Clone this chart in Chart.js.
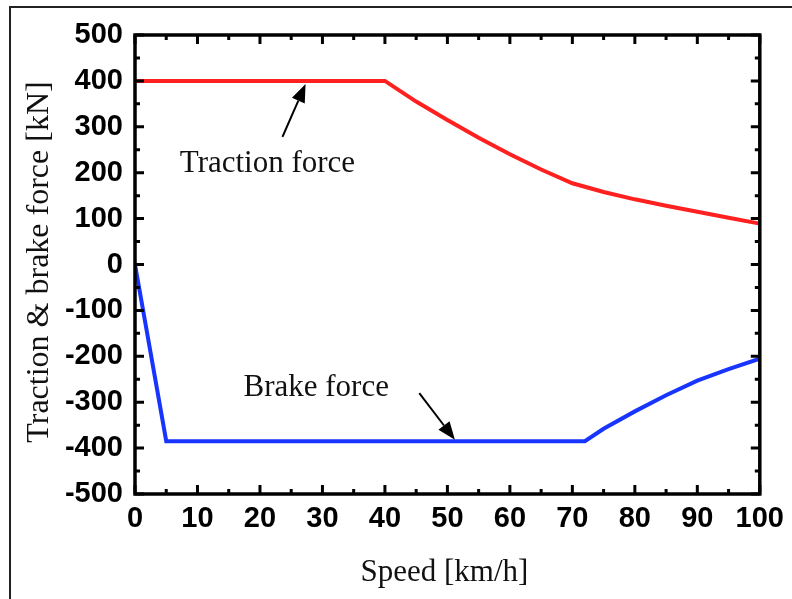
<!DOCTYPE html>
<html>
<head>
<meta charset="utf-8">
<script src="https://cdn.jsdelivr.net/npm/chart.js@4/dist/chart.umd.min.js"></script>
<style>
  html, body { margin: 0; padding: 0; background: #fff; }
  #wrap { position: relative; width: 792px; height: 599px; }
</style>
</head>
<body>
<div id="wrap"><canvas id="chart" width="792" height="599"></canvas></div>
<script>
// Data
const tractionSpeed = [0, 40, 45, 50, 55, 60, 65, 70, 75, 80, 85, 90, 95, 100];
const tractionForce = [400, 400, 355, 315, 276, 240, 207, 177, 158, 142, 128, 115, 102, 89];
const brakeSpeed = [0, 5, 72, 75, 80, 85, 90, 95, 100];
const brakeForce = [0, -385, -385, -358, -320, -285, -253, -228, -205];
const xTicks = [0, 10, 20, 30, 40, 50, 60, 70, 80, 90, 100];
const yTicks = [500, 400, 300, 200, 100, 0, -100, -200, -300, -400, -500];

const tickFont = '"Liberation Sans", Arial, sans-serif';
const serifFont = '"Liberation Serif", "Times New Roman", serif';

// frame, axis box, inward ticks, arrows and text labels
const decorations = {
    id: 'decorations',
    beforeDraw(chart) {
        const ctx = chart.ctx;
        ctx.save();
        ctx.fillStyle = '#fff';
        ctx.fillRect(0, 0, chart.width, chart.height);
        // outer frame (only top and left visible)
        ctx.strokeStyle = '#222';
        ctx.lineWidth = 2;
        ctx.beginPath();
        ctx.moveTo(10, 599);
        ctx.lineTo(10, 7);
        ctx.lineTo(792, 7);
        ctx.stroke();
        ctx.restore();
    },
    afterDraw(chart) {
        const ctx = chart.ctx;
        const a = chart.chartArea;
        const x = chart.scales.x, y = chart.scales.y;
        ctx.save();
        ctx.strokeStyle = '#000';
        ctx.lineWidth = 3.5;
        ctx.strokeRect(a.left, a.top, a.right - a.left, a.bottom - a.top);

        // inward ticks, major and minor
        ctx.lineWidth = 3;
        ctx.beginPath();
        for (let v = 0; v <= 100; v += 5) {
            const px = x.getPixelForValue(v);
            const len = v % 10 === 0 ? 9 : 5;
            ctx.moveTo(px, a.bottom); ctx.lineTo(px, a.bottom - len);
            ctx.moveTo(px, a.top); ctx.lineTo(px, a.top + len);
        }
        for (let v = -500; v <= 500; v += 50) {
            const py = y.getPixelForValue(v);
            const len = v % 100 === 0 ? 9 : 5;
            ctx.moveTo(a.left, py); ctx.lineTo(a.left + len, py);
            ctx.moveTo(a.right, py); ctx.lineTo(a.right - len, py);
        }
        ctx.stroke();

        // arrows
        const arrow = (x0, y0, x1, y1) => {
            const px0 = x.getPixelForValue(x0), py0 = y.getPixelForValue(y0);
            const px1 = x.getPixelForValue(x1), py1 = y.getPixelForValue(y1);
            const ang = Math.atan2(py1 - py0, px1 - px0);
            const hl = 18, hw = 7;
            ctx.strokeStyle = '#000';
            ctx.lineWidth = 2;
            ctx.beginPath();
            ctx.moveTo(px0, py0);
            ctx.lineTo(px1 - Math.cos(ang) * hl, py1 - Math.sin(ang) * hl);
            ctx.stroke();
            ctx.fillStyle = '#000';
            ctx.beginPath();
            ctx.moveTo(px1, py1);
            ctx.lineTo(px1 - Math.cos(ang) * hl - Math.sin(ang) * hw, py1 - Math.sin(ang) * hl + Math.cos(ang) * hw);
            ctx.lineTo(px1 - Math.cos(ang) * hl + Math.sin(ang) * hw, py1 - Math.sin(ang) * hl - Math.cos(ang) * hw);
            ctx.closePath();
            ctx.fill();
        };
        arrow(23.6, 278, 27.3, 393);
        arrow(45.5, -280, 51.2, -382);

        // annotation text
        ctx.fillStyle = '#111';
        ctx.font = '31px ' + serifFont;
        ctx.textAlign = 'center';
        ctx.textBaseline = 'middle';
        ctx.fillText('Traction force', x.getPixelForValue(21.2), y.getPixelForValue(219));
        ctx.fillText('Brake force', x.getPixelForValue(29), y.getPixelForValue(-269));

        // axis titles
        ctx.fillText('Speed [km/h]', (a.left + a.right) / 2 - 3, 573);
        ctx.font = '32px ' + serifFont;
        ctx.translate(40, 262);
        ctx.rotate(-Math.PI / 2);
        ctx.fillText('Traction & brake force [kN]', 0, 0);
        ctx.restore();
    }
};

new Chart(document.getElementById('chart'), {
    type: 'line',
    data: {
        datasets: [{
            label: 'Traction force',
            data: tractionSpeed.map((s, i) => ({ x: s, y: tractionForce[i] })),
            borderColor: 'rgb(255, 32, 32)',
            borderWidth: 4,
            pointRadius: 0,
            fill: false,
            tension: 0
        }, {
            label: 'Brake force',
            data: brakeSpeed.map((s, i) => ({ x: s, y: brakeForce[i] })),
            borderColor: 'rgb(24, 52, 255)',
            borderWidth: 4,
            pointRadius: 0,
            fill: false,
            tension: 0
        }]
    },
    options: {
        responsive: false,
        animation: false,
        events: [],
        layout: { padding: { top: 35, right: 30, left: 0, bottom: 0 } },
        plugins: { legend: { display: false }, tooltip: { enabled: false } },
        scales: {
            x: {
                type: 'linear',
                min: 0, max: 100,
                afterFit(scale) { scale.height = 105; },
                afterBuildTicks(scale) { scale.ticks = xTicks.map(v => ({ value: v })); },
                grid: { display: false, drawTicks: false },
                border: { display: false },
                ticks: {
                    color: '#000',
                    padding: 8,
                    maxRotation: 0,
                    autoSkip: false,
                    font: { family: tickFont, size: 29, weight: 'bold' }
                }
            },
            y: {
                type: 'linear',
                min: -500, max: 500,
                afterFit(scale) { scale.width = 135; },
                afterBuildTicks(scale) { scale.ticks = yTicks.map(v => ({ value: v })); },
                grid: { display: false, drawTicks: false },
                border: { display: false },
                ticks: {
                    color: '#000',
                    padding: 12,
                    autoSkip: false,
                    font: { family: tickFont, size: 29, weight: 'bold' }
                }
            }
        }
    },
    plugins: [decorations]
});
</script>
</body>
</html>
